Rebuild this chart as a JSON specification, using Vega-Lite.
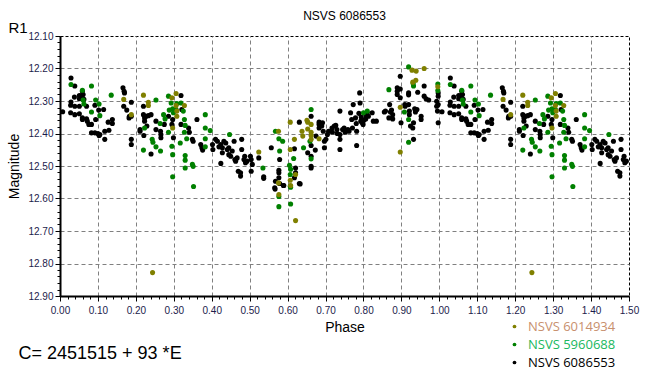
{
"$schema":"https://vega.github.io/schema/vega-lite/v6.json",
"width":569,"height":260,"autosize":"none",
"padding":{"left":60,"top":36,"right":34,"bottom":82},
"background":"white",
"config":{"view":{"stroke":"#000000","strokeDash":[3,2],"strokeWidth":1}},
"title":{"text":"NSVS 6086553","font":"Liberation Sans","fontSize":12,"fontWeight":"normal","color":"#000000","anchor":"middle","offset":-3},
"datasets":{
"black":[
{"p":0.007,"m":12.333},{"p":0.029,"m":12.229},{"p":0.039,"m":12.254},{"p":0.029,"m":12.303},{"p":0.028,"m":12.313},{"p":0.028,"m":12.336},{"p":0.038,"m":12.288},{"p":0.039,"m":12.316},{"p":0.039,"m":12.342},{"p":0.051,"m":12.283},{"p":0.051,"m":12.293},{"p":0.051,"m":12.316},{"p":0.051,"m":12.339},{"p":0.059,"m":12.27},{"p":0.061,"m":12.28},{"p":0.057,"m":12.283},{"p":0.063,"m":12.295},{"p":0.059,"m":12.352},{"p":0.059,"m":12.357},{"p":0.07,"m":12.316},{"p":0.07,"m":12.355},{"p":0.072,"m":12.362},{"p":0.076,"m":12.372},{"p":0.083,"m":12.372},{"p":0.083,"m":12.398},{"p":0.092,"m":12.398},{"p":0.1,"m":12.4},{"p":0.105,"m":12.403},{"p":0.103,"m":12.406},{"p":0.092,"m":12.313},{"p":0.094,"m":12.357},{"p":0.102,"m":12.328},{"p":0.115,"m":12.326},{"p":0.118,"m":12.418},{"p":0.127,"m":12.365},{"p":0.129,"m":12.39},{"p":0.138,"m":12.357},{"p":0.138,"m":12.369},{"p":0.118,"m":12.393},{"p":0.166,"m":12.259},{"p":0.169,"m":12.27},{"p":0.17,"m":12.275},{"p":0.168,"m":12.316},{"p":0.176,"m":12.328},{"p":0.183,"m":12.347},{"p":0.182,"m":12.352},{"p":0.188,"m":12.347},{"p":0.188,"m":12.304},{"p":0.188,"m":12.418},{"p":0.188,"m":12.434},{"p":0.211,"m":12.388},{"p":0.211,"m":12.393},{"p":0.22,"m":12.316},{"p":0.22,"m":12.342},{"p":0.223,"m":12.352},{"p":0.223,"m":12.362},{"p":0.227,"m":12.347},{"p":0.233,"m":12.345},{"p":0.24,"m":12.342},{"p":0.221,"m":12.406},{"p":0.229,"m":12.377},{"p":0.24,"m":12.463},{"p":0.253,"m":12.362},{"p":0.253,"m":12.388},{"p":0.265,"m":12.393},{"p":0.266,"m":12.403},{"p":0.266,"m":12.413},{"p":0.275,"m":12.372},{"p":0.286,"m":12.347},{"p":0.297,"m":12.357},{"p":0.295,"m":12.372},{"p":0.299,"m":12.413},{"p":0.319,"m":12.283},{"p":0.319,"m":12.372},{"p":0.321,"m":12.326},{"p":0.339,"m":12.383},{"p":0.341,"m":12.396},{"p":0.349,"m":12.418},{"p":0.351,"m":12.424},{"p":0.361,"m":12.357},{"p":0.371,"m":12.434},{"p":0.374,"m":12.444},{"p":0.376,"m":12.451},{"p":0.402,"m":12.434},{"p":0.403,"m":12.449},{"p":0.41,"m":12.418},{"p":0.415,"m":12.424},{"p":0.419,"m":12.441},{"p":0.424,"m":12.434},{"p":0.428,"m":12.444},{"p":0.428,"m":12.459},{"p":0.432,"m":12.424},{"p":0.441,"m":12.449},{"p":0.445,"m":12.465},{"p":0.45,"m":12.47},{"p":0.454,"m":12.454},{"p":0.459,"m":12.424},{"p":0.461,"m":12.48},{"p":0.463,"m":12.485},{"p":0.467,"m":12.475},{"p":0.47,"m":12.516},{"p":0.476,"m":12.521},{"p":0.476,"m":12.531},{"p":0.479,"m":12.418},{"p":0.479,"m":12.449},{"p":0.485,"m":12.48},{"p":0.487,"m":12.47},{"p":0.493,"m":12.485},{"p":0.489,"m":12.49},{"p":0.424,"m":12.492},{"p":0.437,"m":12.429},{"p":0.445,"m":12.444},
{"p":0.502,"m":12.47},{"p":0.504,"m":12.48},{"p":0.507,"m":12.495},{"p":0.504,"m":12.516},{"p":0.524,"m":12.475},{"p":0.537,"m":12.533},{"p":0.537,"m":12.538},{"p":0.557,"m":12.444},{"p":0.566,"m":12.567},{"p":0.568,"m":12.547},{"p":0.577,"m":12.536},{"p":0.577,"m":12.513},{"p":0.577,"m":12.521},{"p":0.579,"m":12.554},{"p":0.579,"m":12.48},{"p":0.589,"m":12.56},{"p":0.567,"m":12.571},{"p":0.59,"m":12.56},{"p":0.633,"m":12.555},{"p":0.618,"m":12.447},{"p":0.621,"m":12.506},{"p":0.621,"m":12.521},{"p":0.618,"m":12.536},{"p":0.631,"m":12.365},{"p":0.631,"m":12.554},{"p":0.653,"m":12.459},{"p":0.662,"m":12.47},{"p":0.662,"m":12.501},{"p":0.662,"m":12.506},{"p":0.662,"m":12.347},{"p":0.662,"m":12.437},{"p":0.673,"m":12.451},{"p":0.675,"m":12.408},{"p":0.683,"m":12.365},{"p":0.683,"m":12.372},{"p":0.683,"m":12.383},{"p":0.692,"m":12.367},{"p":0.69,"m":12.377},{"p":0.694,"m":12.393},{"p":0.697,"m":12.424},{"p":0.697,"m":12.444},{"p":0.701,"m":12.418},{"p":0.705,"m":12.403},{"p":0.708,"m":12.393},{"p":0.717,"m":12.383},{"p":0.718,"m":12.396},{"p":0.723,"m":12.377},{"p":0.727,"m":12.375},{"p":0.73,"m":12.388},{"p":0.731,"m":12.4},{"p":0.738,"m":12.418},{"p":0.738,"m":12.403},{"p":0.738,"m":12.449},{"p":0.738,"m":12.331},{"p":0.745,"m":12.388},{"p":0.749,"m":12.383},{"p":0.752,"m":12.396},{"p":0.759,"m":12.388},{"p":0.762,"m":12.393},{"p":0.766,"m":12.336},{"p":0.769,"m":12.357},{"p":0.771,"m":12.383},{"p":0.773,"m":12.311},{"p":0.779,"m":12.352},{"p":0.781,"m":12.369},{"p":0.782,"m":12.393},{"p":0.782,"m":12.437},{"p":0.788,"m":12.338},{"p":0.79,"m":12.275},{"p":0.791,"m":12.306},{"p":0.793,"m":12.362},{"p":0.794,"m":12.349},{"p":0.797,"m":12.367},{"p":0.799,"m":12.372},{"p":0.801,"m":12.359},{"p":0.806,"m":12.342},{"p":0.806,"m":12.355},{"p":0.81,"m":12.336},{"p":0.813,"m":12.347},{"p":0.823,"m":12.336},{"p":0.826,"m":12.362},{"p":0.834,"m":12.362},{"p":0.855,"m":12.334},{"p":0.858,"m":12.331},{"p":0.867,"m":12.352},{"p":0.869,"m":12.311},{"p":0.871,"m":12.334},{"p":0.874,"m":12.328},{"p":0.877,"m":12.342},{"p":0.877,"m":12.355},{"p":0.899,"m":12.367},{"p":0.897,"m":12.224},{"p":0.897,"m":12.263},{"p":0.897,"m":12.29},{"p":0.889,"m":12.259},{"p":0.889,"m":12.27},{"p":0.889,"m":12.28},{"p":0.909,"m":12.311},{"p":0.91,"m":12.316},{"p":0.919,"m":12.311},{"p":0.919,"m":12.275},{"p":0.919,"m":12.281},{"p":0.921,"m":12.331},{"p":0.921,"m":12.342},{"p":0.924,"m":12.377},{"p":0.93,"m":12.383},{"p":0.932,"m":12.367},{"p":0.932,"m":12.418},{"p":0.935,"m":12.324},{"p":0.937,"m":12.334},{"p":0.941,"m":12.326},{"p":0.943,"m":12.273},{"p":0.952,"m":12.347},{"p":0.952,"m":12.357},{"p":0.96,"m":12.254},{"p":0.96,"m":12.285},{"p":0.965,"m":12.293},{"p":0.972,"m":12.297},{"p":0.993,"m":12.301},{"p":0.993,"m":12.316},{"p":0.995,"m":12.331},{"p":0.997,"m":12.275},{"p":0.997,"m":12.285},{"p":0.997,"m":12.311},{"p":0.997,"m":12.367},
{"p":1.007,"m":12.333},{"p":1.029,"m":12.229},{"p":1.039,"m":12.254},{"p":1.029,"m":12.303},{"p":1.028,"m":12.313},{"p":1.028,"m":12.336},{"p":1.038,"m":12.288},{"p":1.039,"m":12.316},{"p":1.039,"m":12.342},{"p":1.051,"m":12.283},{"p":1.051,"m":12.293},{"p":1.051,"m":12.316},{"p":1.051,"m":12.339},{"p":1.059,"m":12.27},{"p":1.061,"m":12.28},{"p":1.057,"m":12.283},{"p":1.063,"m":12.295},{"p":1.059,"m":12.352},{"p":1.059,"m":12.357},{"p":1.07,"m":12.316},{"p":1.07,"m":12.355},{"p":1.072,"m":12.362},{"p":1.076,"m":12.372},{"p":1.083,"m":12.372},{"p":1.083,"m":12.398},{"p":1.092,"m":12.398},{"p":1.1,"m":12.4},{"p":1.105,"m":12.403},{"p":1.103,"m":12.406},{"p":1.092,"m":12.313},{"p":1.094,"m":12.357},{"p":1.102,"m":12.328},{"p":1.115,"m":12.326},{"p":1.118,"m":12.418},{"p":1.127,"m":12.365},{"p":1.129,"m":12.39},{"p":1.138,"m":12.357},{"p":1.138,"m":12.369},{"p":1.118,"m":12.393},{"p":1.166,"m":12.259},{"p":1.169,"m":12.27},{"p":1.17,"m":12.275},{"p":1.168,"m":12.316},{"p":1.176,"m":12.328},{"p":1.183,"m":12.347},{"p":1.182,"m":12.352},{"p":1.188,"m":12.347},{"p":1.188,"m":12.304},{"p":1.188,"m":12.418},{"p":1.188,"m":12.434},{"p":1.211,"m":12.388},{"p":1.211,"m":12.393},{"p":1.22,"m":12.316},{"p":1.22,"m":12.342},{"p":1.223,"m":12.352},{"p":1.223,"m":12.362},{"p":1.227,"m":12.347},{"p":1.233,"m":12.345},{"p":1.24,"m":12.342},{"p":1.221,"m":12.406},{"p":1.229,"m":12.377},{"p":1.24,"m":12.463},{"p":1.253,"m":12.362},{"p":1.253,"m":12.388},{"p":1.265,"m":12.393},{"p":1.266,"m":12.403},{"p":1.266,"m":12.413},{"p":1.275,"m":12.372},{"p":1.286,"m":12.347},{"p":1.297,"m":12.357},{"p":1.295,"m":12.372},{"p":1.299,"m":12.413},{"p":1.319,"m":12.283},{"p":1.319,"m":12.372},{"p":1.321,"m":12.326},{"p":1.339,"m":12.383},{"p":1.341,"m":12.396},{"p":1.349,"m":12.418},{"p":1.351,"m":12.424},{"p":1.361,"m":12.357},{"p":1.371,"m":12.434},{"p":1.374,"m":12.444},{"p":1.376,"m":12.451},{"p":1.402,"m":12.434},{"p":1.403,"m":12.449},{"p":1.41,"m":12.418},{"p":1.415,"m":12.424},{"p":1.419,"m":12.441},{"p":1.424,"m":12.434},{"p":1.428,"m":12.444},{"p":1.428,"m":12.459},{"p":1.432,"m":12.424},{"p":1.441,"m":12.449},{"p":1.445,"m":12.465},{"p":1.45,"m":12.47},{"p":1.454,"m":12.454},{"p":1.459,"m":12.424},{"p":1.461,"m":12.48},{"p":1.463,"m":12.485},{"p":1.467,"m":12.475},{"p":1.47,"m":12.516},{"p":1.476,"m":12.521},{"p":1.476,"m":12.531},{"p":1.479,"m":12.418},{"p":1.479,"m":12.449},{"p":1.485,"m":12.48},{"p":1.487,"m":12.47},{"p":1.493,"m":12.485},{"p":1.489,"m":12.49},{"p":1.424,"m":12.492},{"p":1.437,"m":12.429},{"p":1.445,"m":12.444}
],
"green":[
{"p":0.029,"m":12.249},{"p":0.059,"m":12.267},{"p":0.063,"m":12.309},{"p":0.061,"m":12.297},{"p":0.083,"m":12.254},{"p":0.083,"m":12.334},{"p":0.094,"m":12.297},{"p":0.103,"m":12.309},{"p":0.105,"m":12.345},{"p":0.135,"m":12.282},{"p":0.223,"m":12.383},{"p":0.22,"m":12.451},{"p":0.243,"m":12.418},{"p":0.245,"m":12.427},{"p":0.253,"m":12.297},{"p":0.253,"m":12.441},{"p":0.264,"m":12.369},{"p":0.265,"m":12.454},{"p":0.273,"m":12.342},{"p":0.277,"m":12.355},{"p":0.286,"m":12.285},{"p":0.286,"m":12.396},{"p":0.288,"m":12.328},{"p":0.293,"m":12.306},{"p":0.297,"m":12.324},{"p":0.299,"m":12.336},{"p":0.295,"m":12.439},{"p":0.297,"m":12.465},{"p":0.297,"m":12.533},{"p":0.306,"m":12.326},{"p":0.308,"m":12.308},{"p":0.319,"m":12.306},{"p":0.317,"m":12.429},{"p":0.325,"m":12.331},{"p":0.328,"m":12.357},{"p":0.328,"m":12.396},{"p":0.33,"m":12.375},{"p":0.33,"m":12.468},{"p":0.33,"m":12.482},{"p":0.33,"m":12.506},{"p":0.334,"m":12.416},{"p":0.349,"m":12.495},{"p":0.351,"m":12.501},{"p":0.352,"m":12.563},{"p":0.383,"m":12.342},{"p":0.383,"m":12.383},{"p":0.383,"m":12.416},{"p":0.383,"m":12.441},{"p":0.396,"m":12.391},{"p":0.447,"m":12.403},
{"p":0.535,"m":12.506},{"p":0.568,"m":12.393},{"p":0.577,"m":12.416},{"p":0.579,"m":12.454},{"p":0.587,"m":12.424},{"p":0.605,"m":12.498},{"p":0.607,"m":12.526},{"p":0.607,"m":12.562},{"p":0.616,"m":12.477},{"p":0.642,"m":12.444},{"p":0.662,"m":12.478},{"p":0.662,"m":12.326},{"p":0.659,"m":12.424},{"p":0.577,"m":12.625},{"p":0.608,"m":12.617},{"p":0.577,"m":12.594},{"p":0.608,"m":12.565},{"p":0.608,"m":12.51},{"p":0.8,"m":12.336},{"p":0.81,"m":12.331},{"p":0.867,"m":12.265},{"p":0.908,"m":12.334},{"p":0.919,"m":12.357},{"p":0.919,"m":12.427},{"p":0.919,"m":12.195},{"p":0.931,"m":12.246},{"p":0.932,"m":12.254},{"p":0.996,"m":12.248},{"p":0.996,"m":12.268},
{"p":1.029,"m":12.249},{"p":1.059,"m":12.267},{"p":1.063,"m":12.309},{"p":1.061,"m":12.297},{"p":1.083,"m":12.254},{"p":1.083,"m":12.334},{"p":1.094,"m":12.297},{"p":1.103,"m":12.309},{"p":1.105,"m":12.345},{"p":1.135,"m":12.282},{"p":1.223,"m":12.383},{"p":1.22,"m":12.451},{"p":1.243,"m":12.418},{"p":1.245,"m":12.427},{"p":1.253,"m":12.297},{"p":1.253,"m":12.441},{"p":1.264,"m":12.369},{"p":1.265,"m":12.454},{"p":1.273,"m":12.342},{"p":1.277,"m":12.355},{"p":1.286,"m":12.285},{"p":1.286,"m":12.396},{"p":1.288,"m":12.328},{"p":1.293,"m":12.306},{"p":1.297,"m":12.324},{"p":1.299,"m":12.336},{"p":1.295,"m":12.439},{"p":1.297,"m":12.465},{"p":1.297,"m":12.533},{"p":1.306,"m":12.326},{"p":1.308,"m":12.308},{"p":1.319,"m":12.306},{"p":1.317,"m":12.429},{"p":1.325,"m":12.331},{"p":1.328,"m":12.357},{"p":1.328,"m":12.396},{"p":1.33,"m":12.375},{"p":1.33,"m":12.468},{"p":1.33,"m":12.482},{"p":1.33,"m":12.506},{"p":1.334,"m":12.416},{"p":1.349,"m":12.495},{"p":1.351,"m":12.501},{"p":1.352,"m":12.563},{"p":1.383,"m":12.342},{"p":1.383,"m":12.383},{"p":1.383,"m":12.416},{"p":1.383,"m":12.441},{"p":1.396,"m":12.391},{"p":1.447,"m":12.403}
],
"olive":[
{"p":0.168,"m":12.295},{"p":0.188,"m":12.342},{"p":0.22,"m":12.282},{"p":0.233,"m":12.304},{"p":0.233,"m":12.314},{"p":0.295,"m":12.29},{"p":0.297,"m":12.383},{"p":0.306,"m":12.277},{"p":0.306,"m":12.314},{"p":0.308,"m":12.331},{"p":0.308,"m":12.347},{"p":0.328,"m":12.314},{"p":0.244,"m":12.828},
{"p":0.524,"m":12.457},{"p":0.576,"m":12.393},{"p":0.576,"m":12.552},{"p":0.607,"m":12.365},{"p":0.607,"m":12.449},{"p":0.607,"m":12.544},{"p":0.618,"m":12.418},{"p":0.621,"m":12.526},{"p":0.638,"m":12.393},{"p":0.64,"m":12.408},{"p":0.651,"m":12.359},{"p":0.653,"m":12.365},{"p":0.653,"m":12.386},{"p":0.662,"m":12.372},{"p":0.662,"m":12.396},{"p":0.662,"m":12.406},{"p":0.662,"m":12.418},{"p":0.683,"m":12.416},{"p":0.897,"m":12.457},{"p":0.897,"m":12.319},{"p":0.96,"m":12.2},{"p":0.928,"m":12.205},{"p":0.939,"m":12.208},{"p":0.938,"m":12.236},{"p":0.93,"m":12.242},{"p":0.577,"m":12.588},{"p":0.608,"m":12.56},{"p":0.621,"m":12.668},{"p":0.996,"m":12.256},
{"p":1.168,"m":12.295},{"p":1.188,"m":12.342},{"p":1.22,"m":12.282},{"p":1.233,"m":12.304},{"p":1.233,"m":12.314},{"p":1.295,"m":12.29},{"p":1.297,"m":12.383},{"p":1.306,"m":12.277},{"p":1.306,"m":12.314},{"p":1.308,"m":12.331},{"p":1.308,"m":12.347},{"p":1.328,"m":12.314},{"p":1.244,"m":12.828}
]
},
"layer":[
{"data":{"name":"black"},
 "mark":{"type":"circle","size":26,"opacity":1},
 "encoding":{
  "x":{"field":"p","type":"quantitative","scale":{"domain":[0,1.5],"nice":false,"zero":false},
   "axis":{"title":"Phase","titleFont":"Liberation Sans","titleFontSize":14,"titleFontWeight":"normal","titleColor":"#000000","titleX":284.5,"titleY":35,"titleBaseline":"alphabetic",
    "values":[0,0.02,0.04,0.06,0.08,0.1,0.12,0.14,0.16,0.18,0.2,0.22,0.24,0.26,0.28,0.3,0.32,0.34,0.36,0.38,0.4,0.42,0.44,0.46,0.48,0.5,0.52,0.54,0.56,0.58,0.6,0.62,0.64,0.66,0.68,0.7,0.72,0.74,0.76,0.78,0.8,0.82,0.84,0.86,0.88,0.9,0.92,0.94,0.96,0.98,1,1.02,1.04,1.06,1.08,1.1,1.12,1.14,1.16,1.18,1.2,1.22,1.24,1.26,1.28,1.3,1.32,1.34,1.36,1.38,1.4,1.42,1.44,1.46,1.48,1.5],
    "labelExpr":"abs(datum.value*10-round(datum.value*10))<0.001 ? format(datum.value,'.2f') : ''",
    "labelFont":"Liberation Sans","labelFontSize":10,"labelColor":"#1c1c4c","labelFlush":false,"labelOverlap":false,"labelPadding":4,
    "domainColor":"#000000","domainWidth":2,
    "tickColor":"#000000","tickWidth":1,
    "tickSize":{"condition":{"test":"abs(datum.value*10-round(datum.value*10))<0.001","value":5},"value":3},
    "grid":true,"gridColor":"#808080","gridDash":[4,3],"gridWidth":1,
    "gridOpacity":{"condition":{"test":"abs(datum.value*10-round(datum.value*10))<0.001 && datum.value<1.499","value":1},"value":0}}},
  "y":{"field":"m","type":"quantitative","scale":{"domain":[12.1,12.9],"reverse":true,"nice":false,"zero":false},
   "axis":{"title":"Magnitude","titleFont":"Liberation Sans","titleFontSize":14,"titleFontWeight":"normal","titleColor":"#000000","titleX":-42,"titleY":130,"titleAngle":-90,"titleBaseline":"alphabetic",
    "values":[12.1,12.12,12.14,12.16,12.18,12.2,12.22,12.24,12.26,12.28,12.3,12.32,12.34,12.36,12.38,12.4,12.42,12.44,12.46,12.48,12.5,12.52,12.54,12.56,12.58,12.6,12.62,12.64,12.66,12.68,12.7,12.72,12.74,12.76,12.78,12.8,12.82,12.84,12.86,12.88,12.9],
    "labelExpr":"abs(datum.value*10-round(datum.value*10))<0.001 ? format(datum.value,'.2f') : ''",
    "labelFont":"Liberation Sans","labelFontSize":10,"labelColor":"#1c1c4c","labelFlush":false,"labelOverlap":false,"labelPadding":2,
    "domainColor":"#000000","domainWidth":2,
    "tickColor":"#000000","tickWidth":1,
    "tickSize":{"condition":{"test":"abs(datum.value*10-round(datum.value*10))<0.001","value":5},"value":3},
    "grid":true,"gridColor":"#808080","gridDash":[4,3],"gridWidth":1,
    "gridOpacity":{"condition":{"test":"abs(datum.value*10-round(datum.value*10))<0.001 && datum.value>12.101","value":1},"value":0}}},
  "color":{"datum":"NSVS 6086553","type":"nominal",
   "scale":{"domain":["NSVS 6014934","NSVS 5960688","NSVS 6086553"],"range":["#808000","#008000","#000000"]},
   "legend":{"title":null,"orient":"none","legendX":448,"legendY":284,"symbolType":"circle","symbolSize":14,"symbolStrokeWidth":0,
    "labelFont":"Open Sans","labelFontSize":13,"labelLimit":200,"rowPadding":4,"padding":0,"labelOffset":7,
    "labelColor":{"expr":"datum.label=='NSVS 6014934' ? '#c8906e' : (datum.label=='NSVS 5960688' ? '#20b860' : '#000000')"}}}
 }},
{"data":{"name":"green"},
 "mark":{"type":"circle","size":26,"opacity":1},
 "encoding":{"x":{"field":"p","type":"quantitative","axis":null},"y":{"field":"m","type":"quantitative","axis":null},"color":{"datum":"NSVS 5960688","type":"nominal"}}},
{"data":{"name":"olive"},
 "mark":{"type":"circle","size":26,"opacity":1},
 "encoding":{"x":{"field":"p","type":"quantitative","axis":null},"y":{"field":"m","type":"quantitative","axis":null},"color":{"datum":"NSVS 6014934","type":"nominal"}}},
{"data":{"name":"olive"},
 "mark":{"type":"point","opacity":0},
 "encoding":{
  "x":{"field":"p","type":"quantitative","axis":{"orient":"top","domain":false,"ticks":false,"labels":false,"grid":false,"title":"C= 2451515 + 93 *E","titleFont":"Liberation Sans","titleFontSize":18,"titleFontWeight":"normal","titleColor":"#000000","titleX":-42,"titleY":322,"titleAlign":"left","titleBaseline":"alphabetic","titleAngle":0}},
  "y":{"field":"m","type":"quantitative","axis":{"orient":"right","domain":false,"ticks":false,"labels":false,"grid":false,"title":"R1","titleFont":"Liberation Sans","titleFontSize":15,"titleFontWeight":"normal","titleColor":"#000000","titleX":-621,"titleY":-4,"titleAlign":"left","titleBaseline":"alphabetic","titleAngle":0}}}}
],
"resolve":{"axis":{"x":"independent","y":"independent"}}
}
